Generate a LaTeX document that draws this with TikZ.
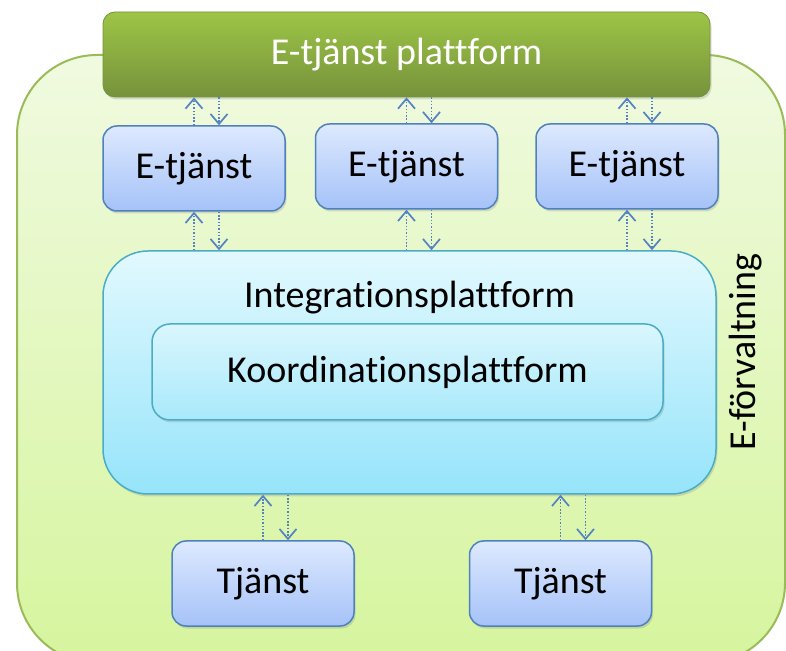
\documentclass[tikz,border=0pt]{standalone}
\usepackage{fontspec}
\setmainfont{Carlito}[Ligatures=NoCommon]
\usetikzlibrary{arrows.meta,positioning,shadows}

\definecolor{outerline}{RGB}{155,187,89}
\definecolor{outertop}{RGB}{240,250,224}
\definecolor{outerbot}{RGB}{214,245,158}
\definecolor{plattop}{RGB}{157,197,70}
\definecolor{platbot}{RGB}{118,146,60}
\definecolor{etjline}{RGB}{79,129,189}
\definecolor{etjtop}{RGB}{221,233,254}
\definecolor{etjbot}{RGB}{165,194,248}
\definecolor{intline}{RGB}{75,172,198}
\definecolor{inttop}{RGB}{226,249,254}
\definecolor{intbot}{RGB}{150,228,250}
\definecolor{koortop}{RGB}{218,246,253}
\definecolor{koorbot}{RGB}{168,233,251}
\definecolor{flowcol}{RGB}{84,130,196}

\newcommand\diafont{\fontsize{38}{46}\selectfont}

\begin{document}
\begin{tikzpicture}[x=1pt,y=1pt,>={Straight Barb[length=10pt,width=17pt,line width=1.7pt]},
  shade/.style={drop shadow={opacity=0.25,shadow xshift=1.5pt,shadow yshift=-2.5pt}},
  box/.style={rectangle,rounded corners=14pt,draw=etjline,line width=1.5pt,
    top color=etjtop,bottom color=etjbot,minimum width=182pt,minimum height=85pt,
    inner sep=0pt,font=\diafont,shade},
  flow/.style={->,draw=flowcol,line width=1.6pt,dash pattern=on 1.5pt off 1.8pt}]
  \useasboundingbox (0,0) rectangle (786,650);
  \path[draw=outerline,line width=2pt,top color=outertop,bottom color=outerbot,
    rounded corners=80pt] (17,-13) rectangle (785,595);

  \node[rectangle,rounded corners=12pt,draw=platbot,line width=0.8pt,
    top color=plattop,bottom color=platbot,minimum width=607pt,minimum height=85pt,
    text=white,font=\diafont,shade] (plattform) at (406.5,595.5) {E-tjänst plattform};

  \node[box] (etj1) at (194,481.5) {E-tjänst};
  \node[box] (etj2) at (406.5,483.5) {E-tjänst};
  \node[box,right=37pt of etj2] (etj3) {E-tjänst};

  \node[rectangle,rounded corners=45pt,draw=intline,line width=1.5pt,
    top color=inttop,bottom color=intbot,minimum width=613pt,minimum height=243pt,shade,
    label={[anchor=base,yshift=-57pt,font=\diafont]north:Integrationsplattform}]
    (integ) at (409.5,277.5) {};
  \node[rectangle,rounded corners=18pt,draw=intline,line width=1.5pt,
    top color=koortop,bottom color=koorbot,minimum width=511pt,minimum height=96pt,
    font=\diafont,shade] (koord) at (407.5,278) {Koordinationsplattform};

  \node[box] (tj1) at (263,66.5) {Tjänst};
  \node[box,right=114pt of tj1] (tj2) {Tjänst};

  \node[rotate=90,font=\diafont] (forv) at (746,298) {E-förvaltning};

  \foreach \n in {etj1,etj2,etj3}{
    \draw[flow] (\n.north) -- (\n.north |- plattform.south);
    \draw[flow] ([xshift=25pt]\n.north |- plattform.south) -- ([xshift=25pt]\n.north);
    \draw[flow] (\n.south |- integ.north) -- (\n.south);
    \draw[flow] ([xshift=25pt]\n.south) -- ([xshift=25pt]\n.south |- integ.north);
  }
  \foreach \n in {tj1,tj2}{
    \draw[flow] (\n.north) -- (\n.north |- integ.south);
    \draw[flow] ([xshift=25pt]\n.north |- integ.south) -- ([xshift=25pt]\n.north);
  }
\end{tikzpicture}
\end{document}
